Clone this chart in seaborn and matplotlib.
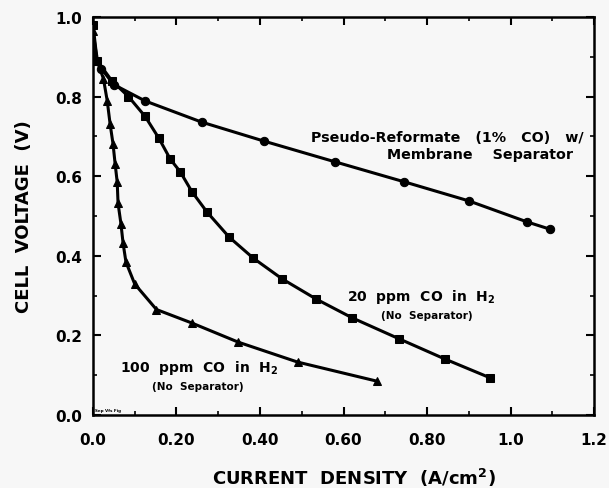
import pandas as pd
import matplotlib
matplotlib.use("Agg")
import matplotlib.pyplot as plt
import seaborn as sns
from matplotlib.ticker import MultipleLocator, FixedLocator

# Pseudo-Reformate (1% CO) w/ membrane separator -- circles
reformate_x = [0.0, 0.02, 0.05, 0.125, 0.26, 0.41, 0.58, 0.745, 0.90, 1.04, 1.094]
reformate_y = [0.905, 0.87, 0.83, 0.789, 0.736, 0.688, 0.636, 0.586, 0.538, 0.485, 0.467]

# 20 ppm CO in H2 (no separator) -- squares
ppm20_x = [0.0, 0.01, 0.045, 0.085, 0.125, 0.158, 0.185, 0.209, 0.237, 0.273,
           0.326, 0.384, 0.453, 0.535, 0.621, 0.734, 0.842, 0.952]
ppm20_y = [0.98, 0.89, 0.84, 0.80, 0.75, 0.695, 0.643, 0.611, 0.561, 0.51,
           0.447, 0.394, 0.342, 0.291, 0.244, 0.191, 0.141, 0.093]

# 100 ppm CO in H2 (no separator) -- triangles
ppm100_x = [0.0, 0.01, 0.025, 0.034, 0.041, 0.048, 0.053, 0.058, 0.06, 0.067,
            0.072, 0.079, 0.10, 0.152, 0.237, 0.348, 0.49, 0.68]
ppm100_y = [0.965, 0.89, 0.845, 0.79, 0.731, 0.681, 0.631, 0.585, 0.532, 0.48,
            0.432, 0.384, 0.329, 0.265, 0.231, 0.183, 0.133, 0.085]

x_ticks = [0.0, 0.2, 0.4, 0.6, 0.8, 1.0, 1.2]
x_tick_labels = ["0.0", "0.20", "0.40", "0.60", "0.80", "1.0", "1.2"]
y_ticks = [0.0, 0.2, 0.4, 0.6, 0.8, 1.0]
y_tick_labels = ["0.0", "0.2", "0.4", "0.6", "0.8", "1.0"]

df = pd.concat([
    pd.DataFrame({"j": reformate_x, "v": reformate_y, "run": "reformate"}),
    pd.DataFrame({"j": ppm20_x, "v": ppm20_y, "run": "20ppm"}),
    pd.DataFrame({"j": ppm100_x, "v": ppm100_y, "run": "100ppm"}),
], ignore_index=True)

sns.set_theme(style="ticks")
plt.rcParams["font.family"] = ["DejaVu Sans"]
plt.rcParams["font.weight"] = "bold"
plt.rcParams["mathtext.default"] = "bf"
plt.rcParams["text.color"] = "black"
plt.rcParams["axes.labelcolor"] = "black"

bg = "#f7f7f7"
fig = plt.figure(figsize=(6.09, 4.89), dpi=100, facecolor=bg)
ax = fig.add_axes([0.1527, 0.1493, 0.8227, 0.8139])
ax.set_facecolor(bg)

sns.lineplot(
    data=df, x="j", y="v", style="run", hue="run",
    palette=["black", "black", "black"],
    markers={"reformate": "o", "20ppm": "s", "100ppm": "^"},
    dashes=False, sort=False, estimator=None,
    linewidth=2.2, markersize=6, markeredgecolor="black",
    legend=False, ax=ax,
)

ax.set_xlim(0, 1.2)
ax.set_ylim(0, 1.0)
ax.xaxis.set_major_locator(FixedLocator(x_ticks))
ax.set_xticklabels(x_tick_labels)
ax.yaxis.set_major_locator(FixedLocator(y_ticks))
ax.set_yticklabels(y_tick_labels)
ax.xaxis.set_minor_locator(MultipleLocator(0.1))
ax.yaxis.set_minor_locator(MultipleLocator(0.1))
ax.tick_params(which="both", direction="in", top=True, right=True, color="black")
ax.tick_params(which="major", length=6, width=1.5, labelsize=11, labelcolor="black")
ax.tick_params(axis="x", which="major", pad=12)
ax.tick_params(axis="y", which="major", pad=8)
ax.tick_params(which="minor", length=3, width=1.2)
for lbl in ax.get_xticklabels() + ax.get_yticklabels():
    lbl.set_fontweight("bold")
for s in ax.spines.values():
    s.set_linewidth(1.8)
    s.set_color("black")

ax.set_xlabel("CURRENT  DENSITY  (A/cm$^2$)", fontsize=13, fontweight="bold", labelpad=14)
ax.xaxis.label.set_x(0.52)
ax.set_ylabel("CELL  VOLTAGE  (V)", fontsize=13, fontweight="bold", labelpad=16)

ax.text(1.175, 0.698, "Pseudo-Reformate   (1%   CO)   w/", ha="right", va="center",
        fontsize=10.3, fontweight="bold")
ax.text(1.149, 0.656, "Membrane    Separator", ha="right", va="center",
        fontsize=10.3, fontweight="bold")

ax.text(0.787, 0.30, "20  ppm  CO  in  H$_2$", ha="center", va="center",
        fontsize=10, fontweight="bold")
ax.text(0.80, 0.25, "(No  Separator)", ha="center", va="center",
        fontsize=7.5, fontweight="bold")

ax.text(0.254, 0.12, "100  ppm  CO  in  H$_2$", ha="center", va="center",
        fontsize=10, fontweight="bold")
ax.text(0.25, 0.073, "(No  Separator)", ha="center", va="center",
        fontsize=7.5, fontweight="bold")

ax.text(0.005, 0.008, "Sep Vfs Fig", ha="left", va="bottom", fontsize=3, fontweight="bold")

fig.savefig("out.png", dpi=100, facecolor=bg)
